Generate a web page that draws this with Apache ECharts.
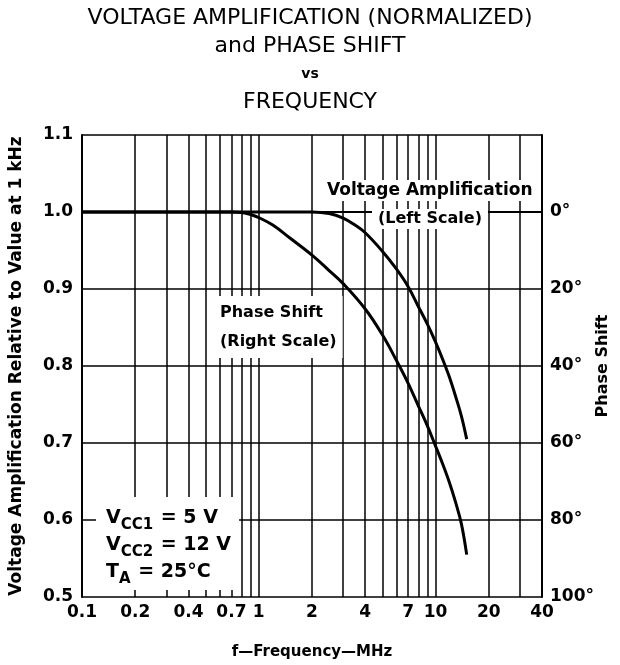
<!DOCTYPE html>
<html>
<head>
<meta charset="utf-8">
<script src="https://cdn.jsdelivr.net/npm/echarts@6/dist/echarts.min.js"></script>
<style>
  html, body { margin: 0; padding: 0; background: #fff; }
  #chart { width: 620px; height: 665px; }
</style>
</head>
<body>
<div id="chart"></div>
<script>
// frequency (MHz) where the vertical grid lines are drawn
const gridFreqs = [0.2, 0.3, 0.4, 0.5, 0.6, 0.7, 0.8, 0.9, 1, 2, 3, 4, 5, 6, 7, 8, 9, 10, 20, 30]
const freqLabels = [0.1, 0.2, 0.4, 0.7, 1, 2, 4, 7, 10, 20, 40]

// voltage amplification, left scale
const vaFreq = [0.1, 1, 2, 2.5, 3, 3.5, 4, 5, 6, 7, 8, 9, 10, 11, 12, 13, 14, 15]
const vaGain = [1.0, 1.0, 1.0, 0.998, 0.992, 0.983, 0.973, 0.949, 0.926, 0.903, 0.877, 0.854, 0.831, 0.808, 0.785, 0.76, 0.735, 0.705]

// phase shift in degrees, right scale
const psFreq = [0.1, 0.7, 0.8, 0.9, 1, 1.2, 1.5, 2, 2.5, 3, 4, 5, 6, 7, 8, 9, 10, 11, 12, 13, 14, 15]
const psDeg = [0, 0, 0.13, 0.65, 1.45, 3.4, 6.75, 11.2, 15.2, 18.6, 25.2, 31.9, 38.5, 44.5, 50.4, 55.6, 60.8, 65.6, 70.4, 75.5, 81, 89]

const font = 'DejaVu Sans, sans-serif'
const ink = '#000'

const chart = echarts.init(document.getElementById('chart'))

chart.setOption({
  backgroundColor: '#fff',
  animation: false,
  title: {
    left: 'center',
    top: 4,
    padding: 0,
    text: '{a|VOLTAGE AMPLIFICATION (NORMALIZED)}\n{a|and PHASE SHIFT}\n{b|vs}\n{a|FREQUENCY}',
    textStyle: {
      rich: {
        a: { fontFamily: font, fontSize: 22, fontWeight: 'normal', color: ink, lineHeight: 28, align: 'center' },
        b: { fontFamily: font, fontSize: 14, fontWeight: 'bold', color: ink, lineHeight: 28, align: 'center' },
      },
    },
  },
  grid: {
    left: 82,
    right: 78,
    top: 135,
    bottom: 68,
    containLabel: false,
    outerBoundsMode: 'none',
  },
  xAxis: {
    type: 'log',
    logBase: 10,
    min: 0.1,
    max: 40,
    name: 'f\u2014Frequency\u2014MHz',
    nameLocation: 'middle',
    nameGap: 48,
    nameTextStyle: { fontFamily: font, fontSize: 15, fontWeight: 'bold', color: ink },
    axisLine: { show: true, lineStyle: { color: ink, width: 2 } },
    axisTick: { show: false },
    minorTick: { show: false },
    splitLine: { show: false },
    minorSplitLine: { show: false },
    axisLabel: {
      customValues: freqLabels,
      formatter: (v) => String(v),
      fontFamily: font,
      fontSize: 17,
      fontWeight: 'bold',
      color: ink,
      margin: 7,
      hideOverlap: false,
    },
  },
  yAxis: [
    {
      type: 'value',
      min: 0.5,
      max: 1.1,
      interval: 0.1,
      name: 'Voltage Amplification Relative to Value at 1 kHz',
      nameLocation: 'middle',
      nameGap: 57,
      nameTextStyle: { fontFamily: font, fontSize: 17, fontWeight: 'bold', color: ink },
      axisLine: { show: true, lineStyle: { color: ink, width: 2 } },
      axisTick: { show: false },
      splitLine: { show: true, lineStyle: { color: ink, width: 1.5 } },
      axisLabel: {
        formatter: (v) => v.toFixed(1),
        fontFamily: font,
        fontSize: 17,
        fontWeight: 'bold',
        color: ink,
        margin: 9,
      },
    },
    {
      type: 'value',
      min: -20,
      max: 100,
      interval: 20,
      inverse: true,
      position: 'right',
      name: 'Phase Shift',
      nameLocation: 'middle',
      nameRotate: 90,
      nameGap: 53,
      nameMoveOverlap: false,
      nameTextStyle: { fontFamily: font, fontSize: 16, fontWeight: 'bold', color: ink },
      axisLine: { show: true, lineStyle: { color: ink, width: 2 } },
      axisTick: { show: false },
      splitLine: { show: false },
      axisLabel: {
        formatter: (v) => (v < 0 ? '' : v + '\u00b0'),
        fontFamily: font,
        fontSize: 17,
        fontWeight: 'bold',
        color: ink,
        margin: 8,
      },
    },
  ],
  series: [
    {
      // carries the vertical grid lines only
      name: 'grid',
      type: 'line',
      data: [],
      z: 1,
      markLine: {
        silent: true,
        symbol: ['none', 'none'],
        animation: false,
        label: { show: false },
        lineStyle: { color: ink, width: 1.5, type: 'solid' },
        data: gridFreqs.map((f) => ({ xAxis: f })),
      },
    },
    {
      name: 'Voltage Amplification',
      type: 'line',
      yAxisIndex: 0,
      smooth: 0.4,
      showSymbol: false,
      lineStyle: { color: ink, width: 3 },
      data: vaFreq.map((f, i) => [f, vaGain[i]]),
      z: 5,
    },
    {
      name: 'Phase Shift',
      type: 'line',
      yAxisIndex: 1,
      smooth: 0.4,
      showSymbol: false,
      lineStyle: { color: ink, width: 3 },
      data: psFreq.map((f, i) => [f, psDeg[i]]),
      z: 5,
    },
  ],
  graphic: [
    {
      type: 'text',
      left: 323,
      top: 180,
      z: 10,
      style: {
        text: 'Voltage Amplification',
        font: 'bold 17px ' + font,
        fill: ink,
        backgroundColor: '#fff',
        padding: [2, 4],
      },
    },
    {
      type: 'text',
      left: 372,
      top: 209,
      z: 10,
      style: {
        text: '(Left Scale)',
        font: 'bold 16px ' + font,
        fill: ink,
        backgroundColor: '#fff',
        padding: [2, 6],
      },
    },
    {
      type: 'text',
      left: 214,
      top: 296,
      z: 10,
      style: {
        text: 'Phase Shift\n(Right Scale)',
        font: 'bold 16px ' + font,
        fill: ink,
        align: 'center',
        lineHeight: 29,
        backgroundColor: '#fff',
        padding: [2, 6],
      },
    },
    {
      type: 'text',
      left: 96,
      top: 497,
      z: 10,
      style: {
        text: '{m|V}{s|CC1}{m| = 5 V}\n{m|V}{s|CC2}{m| = 12 V}\n{m|T}{s|A}{m| = 25\u00b0C}',
        backgroundColor: '#fff',
        padding: [4, 8, 8, 10],
        rich: {
          m: { font: 'bold 19px ' + font, fill: ink, lineHeight: 27, verticalAlign: 'bottom' },
          s: { font: 'bold 15px ' + font, fill: ink, lineHeight: 27, verticalAlign: 'bottom', padding: [0, 1, -5, 0] },
        },
      },
    },
  ],
})
</script>
</body>
</html>
